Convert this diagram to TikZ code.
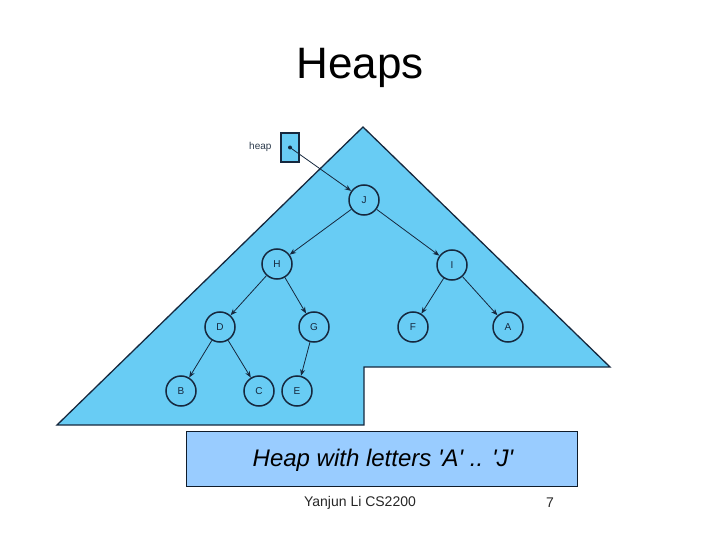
\documentclass[tikz,border=0pt]{standalone}
\usepackage{fontspec}
\setmainfont{Liberation Sans}
\usetikzlibrary{arrows.meta}
\definecolor{heapblue}{RGB}{104,204,244}
\definecolor{navy}{RGB}{22,40,62}
\definecolor{capblue}{RGB}{153,204,255}
\tikzset{
  hnode/.style={circle, draw=navy, line width=1.5pt, minimum size=30pt, inner sep=0pt, font=\fontsize{10}{11}\selectfont, text=navy},
  harrow/.style={-{Stealth[length=6.5pt,width=5pt]}, draw=navy, line width=0.8pt},
}
\begin{document}
\begin{tikzpicture}[x=1pt,y=-1pt]
\useasboundingbox (0,0) rectangle (720,540);
% title
\node[font=\fontsize{44}{48}\selectfont] (title) at (360,68) {Heaps};
% big shape
\draw[fill=heapblue, draw=navy, line width=1.3pt, line join=miter]
  (363,127) -- (610,367) -- (364,367) -- (364,425) -- (57,425) -- cycle;
% heap pointer box
\node[draw=navy, fill=heapblue, line width=1.2pt, minimum width=18pt, minimum height=29pt, inner sep=0pt] (hbox) at (290,147.5) {};
\node[font=\fontsize{10}{11}\selectfont, text=navy!80!gray, anchor=east] (hlabel) at (275,147) {heap};
\fill[navy] (hbox.center) circle (2pt);
\coordinate (hdot) at (hbox.center);
% nodes
\node[hnode] (J) at (364,200) {J};
\node[hnode] (H) at (277,264) {H};
\node[hnode] (I) at (452,265) {I};
\node[hnode] (D) at (220,327) {D};
\node[hnode] (G) at (314,327) {G};
\node[hnode] (F) at (413,327) {F};
\node[hnode] (A) at (508,327) {A};
\node[hnode] (B) at (181,391) {B};
\node[hnode] (C) at (259,391) {C};
\node[hnode] (E) at (297,391) {E};
% edges
\draw[harrow] (hdot) -- (J);
\draw[harrow] (J) -- (H);
\draw[harrow] (J) -- (I);
\draw[harrow] (H) -- (D);
\draw[harrow] (H) -- (G);
\draw[harrow] (I) -- (F);
\draw[harrow] (I) -- (A);
\draw[harrow] (D) -- (B);
\draw[harrow] (D) -- (C);
\draw[harrow] (G) -- (E);
% caption
\node[draw=navy!70!black, fill=capblue, line width=1pt, minimum width=391pt, minimum height=55pt, inner sep=0pt] (cap) at (381.5,458.5) {};
\node[font=\fontsize{24}{28}\selectfont\itshape] (captext) at (383,460) {Heap with letters \textquotesingle A\textquotesingle\ .. \textquotesingle J\textquotesingle};
% footer
\node[font=\fontsize{14}{16}\selectfont, text=black!85] (foot) at (360,503) {Yanjun Li CS2200};
\node[font=\fontsize{14}{16}\selectfont, text=black!85] (pnum) at (550,503) {7};
\end{tikzpicture}
\end{document}
